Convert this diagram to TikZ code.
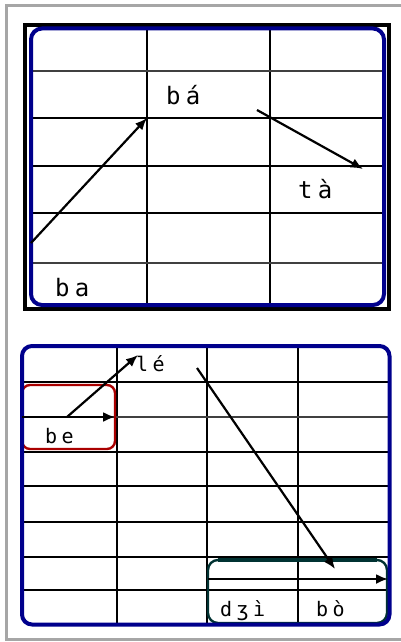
\documentclass[tikz,border=0pt]{standalone}
\usepackage{fontspec}
\newfontfamily\sylfont[LetterSpace=22]{DejaVu Sans Mono}
\usetikzlibrary{arrows.meta}
\definecolor{panelblue}{RGB}{0,0,140}
\definecolor{boxred}{RGB}{170,0,0}
\definecolor{boxteal}{RGB}{0,50,50}

\begin{document}
\begin{tikzpicture}[
    x=1pt, y=-1pt,
    >={Latex[length=12pt,width=10pt]},
    every node/.style={inner sep=0pt, anchor=base west},
    gridline/.style={line width=2.2pt},
    thinline/.style={line width=1.2pt, black!75},
    panel/.style={draw=panelblue, line width=4pt, rounded corners=11pt},
    move/.style={->, line width=2.2pt},
    bigsyl/.style={font=\sylfont\fontsize{24}{24}\selectfont},
    smallsyl/.style={font=\sylfont\fontsize{20}{20}\selectfont}
]
\useasboundingbox (0,0) rectangle (401,642);
\draw[gray!70, line width=3pt] (405,6) -- (6,6) -- (6,639) -- (405,639);

% upper table
\draw[line width=3.5pt] (25,25) rectangle (389,309);
\draw[gridline] (147,28) -- (147,305) (270,28) -- (270,305);
\draw[gridline] (31,118) -- (384,118) (31,166) -- (384,166) (31,213) -- (384,213);
\draw[thinline] (31,71) -- (384,71) (31,263) -- (384,263);
\draw[panel] (31,28.5) rectangle (384,305);

\node[bigsyl] (baMid) at (55,296) {ba};
\node[bigsyl] (baHigh) at (166,104) {bá};
\node[bigsyl] (taLow) at (298,198) {tà};

\coordinate (upStart) at (31,243);
\coordinate (upPeak) at (147,118);
\coordinate (downStart) at (257,110);
\coordinate (downEnd) at (363,169);
\draw[move] (upStart) -- (upPeak);
\draw[move] (downStart) -- (downEnd);

% lower table
\draw[gridline] (117,346) -- (117,624) (207,346) -- (207,624) (298,346) -- (298,624);
\draw[gridline] (22,382) -- (389,382) (22,452) -- (389,452) (22,486) -- (389,486)
    (22,522) -- (389,522) (22,557) -- (389,557) (22,590) -- (389,590);
\draw[thinline] (22,417) -- (389,417);
\draw[boxred, line width=2.4pt, rounded corners=8pt] (22,385) rectangle (115,449);
\draw[boxteal, line width=2.4pt, rounded corners=10pt] (208,560) rectangle (387,623);
\draw[boxteal, line width=3.2pt] (218,560) -- (377,560);
\draw[panel, rounded corners=10pt] (22,346) rectangle (389.5,624.5);

\node[smallsyl] (beMid) at (45,443) {be};
\node[smallsyl] (leHigh) at (136,371) {lé};
\node[smallsyl] (dziLow) at (220,616) {dʒì};
\node[smallsyl] (boLow) at (316,616) {bò};

\coordinate (levelStart) at (22,417);
\coordinate (levelEnd) at (115,417);
\coordinate (riseStart) at (67,417);
\coordinate (risePeak) at (138,355);
\coordinate (fallStart) at (197,368);
\coordinate (fallEnd) at (335,569);
\coordinate (lowStart) at (208,579);
\coordinate (lowEnd) at (388,579);
\draw[move] (levelStart) -- (levelEnd);
\draw[move] (riseStart) -- (risePeak);
\draw[move] (fallStart) -- (fallEnd);
\draw[move] (lowStart) -- (lowEnd);
\end{tikzpicture}
\end{document}
